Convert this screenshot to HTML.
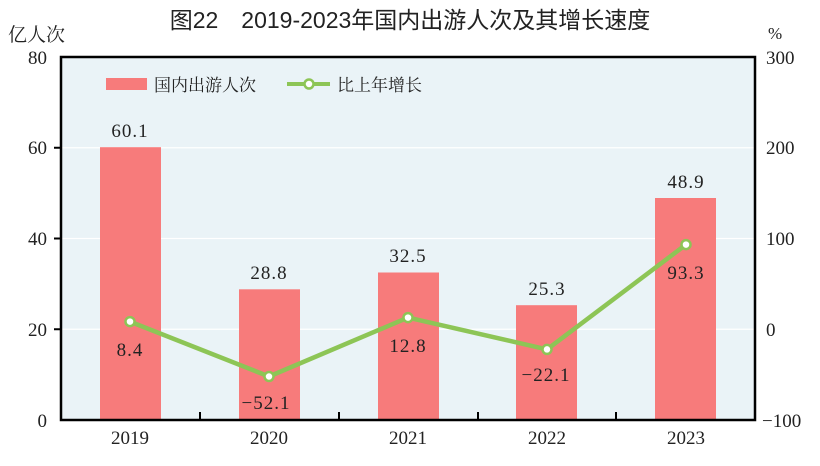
<!DOCTYPE html>
<html><head><meta charset="utf-8"><style>
body{margin:0;background:#fff;}
svg{display:block;}
text{font-family:"Liberation Serif","Noto Serif CJK SC",serif;fill:#222;}
.cj{font-family:"Liberation Sans","Noto Sans CJK SC",sans-serif;}
.cs{font-family:"Liberation Serif","Noto Serif CJK SC",serif;}
</style></head><body>
<svg width="820" height="466" viewBox="0 0 820 466">
<rect x="61" y="57" width="694" height="363" fill="#eaf3f7"/>
<g stroke="#fff" stroke-width="1.2">
<line x1="61" x2="755" y1="147.75" y2="147.75"/>
<line x1="61" x2="755" y1="238.5" y2="238.5"/>
<line x1="61" x2="755" y1="329.25" y2="329.25"/>
</g>
<g fill="#f77b7b">
<rect x="100" y="147.2" width="61" height="272.8"/>
<rect x="239" y="289.3" width="61" height="130.7"/>
<rect x="378" y="272.5" width="61" height="147.5"/>
<rect x="516" y="305.2" width="61" height="114.8"/>
<rect x="655" y="198" width="61" height="222"/>
</g>
<rect x="61" y="57" width="694" height="363" fill="none" stroke="#000" stroke-width="2.5"/>
<g stroke="#000" stroke-width="2">
<line x1="54" x2="61" y1="147.75" y2="147.75"/>
<line x1="54" x2="61" y1="238.5" y2="238.5"/>
<line x1="54" x2="61" y1="329.25" y2="329.25"/>
<line x1="200" x2="200" y1="412" y2="420"/>
<line x1="339" x2="339" y1="412" y2="420"/>
<line x1="478" x2="478" y1="412" y2="420"/>
<line x1="616" x2="616" y1="412" y2="420"/>
</g>
<polyline points="130,321.6 269,376.5 408,317.6 547,349.4 686,244.6" fill="none" stroke="#8dc556" stroke-width="4.5" stroke-linejoin="round"/>
<g fill="#fff" stroke="#8dc556" stroke-width="2.5">
<circle cx="130" cy="321.6" r="4.5"/><circle cx="269" cy="376.5" r="4.5"/><circle cx="408" cy="317.6" r="4.5"/><circle cx="547" cy="349.4" r="4.5"/><circle cx="686" cy="244.6" r="4.5"/>
</g>
<g font-size="19" text-anchor="middle" letter-spacing="1">
<text x="130" y="137">60.1</text><text x="269" y="279">28.8</text><text x="408" y="262">32.5</text><text x="547" y="295">25.3</text><text x="686" y="188">48.9</text>
<text x="130" y="356">8.4</text><text x="266" y="409">−52.1</text><text x="408" y="352">12.8</text><text x="546" y="381">−22.1</text><text x="686" y="279">93.3</text>
</g>
<g font-size="19" text-anchor="middle">
<text x="130" y="444">2019</text><text x="269" y="444">2020</text><text x="408" y="444">2021</text><text x="547" y="444">2022</text><text x="686" y="444">2023</text>
</g>
<g font-size="19" text-anchor="end">
<text x="47" y="64">80</text><text x="47" y="154">60</text><text x="47" y="245">40</text><text x="47" y="336">20</text><text x="47" y="427">0</text>
</g>
<g font-size="19" text-anchor="start">
<text x="766" y="64">300</text><text x="766" y="154">200</text><text x="766" y="245">100</text><text x="766" y="336">0</text><text x="762" y="427">−100</text>
</g>
<text x="768" y="39" font-size="17">%</text>
<text x="8" y="41" font-size="19" class="cs">亿人次</text>
<text x="410" y="28" font-size="23" class="cj" text-anchor="middle">图22　2019-2023年国内出游人次及其增长速度</text>
<rect x="106" y="78" width="41" height="12" fill="#f77b7b"/>
<text x="154" y="91" font-size="17" class="cs">国内出游人次</text>
<line x1="287" x2="330" y1="84" y2="84" stroke="#8dc556" stroke-width="4"/>
<circle cx="309" cy="84" r="4.5" fill="#fff" stroke="#8dc556" stroke-width="2.5"/>
<text x="337" y="91" font-size="17" class="cs">比上年增长</text>
</svg>
</body></html>
